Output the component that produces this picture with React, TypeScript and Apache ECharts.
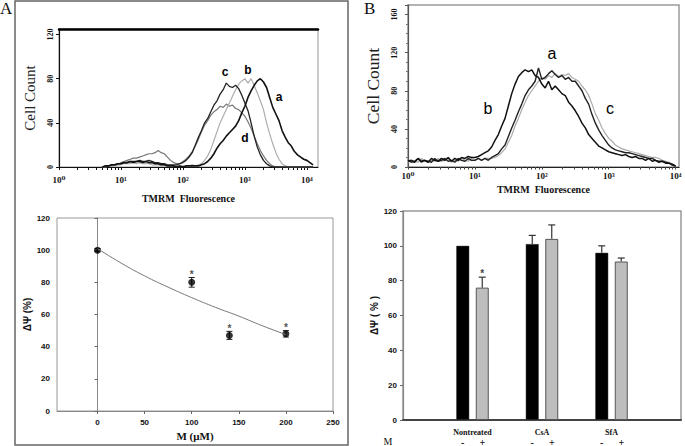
import React, { useEffect, useRef } from 'react';
import * as echarts from 'echarts';

const SERIF = '"Liberation Serif", "Times New Roman", "DejaVu Serif", serif';
const SANS = '"Liberation Sans", Arial, "DejaVu Sans", sans-serif';

// ---------- Panel A (top): TMRM histograms, bins in log10 units ----------
const histAStart = 0.7;
const histAStep = 0.05;
const histA_a = [
  0, 1, 1, 2, 2, 3, 3, 4, 4, 5,
  4, 5, 5, 4, 5, 4, 4, 3, 3, 2,
  2, 1, 1, 1, 0, 1, 0, 1, 1, 1,
  1, 1, 2, 3, 5, 8, 12, 17, 21, 24,
  28, 31, 34, 37, 42, 49, 55, 63, 69, 74,
  78, 80, 77, 72, 63, 54, 48, 42, 33, 27,
  22, 19, 14, 11, 9, 7, 6, 4, 2,
];
const histA_b = [
  0, 0, 1, 1, 1, 2, 2, 3, 3, 3,
  4, 3, 4, 3, 3, 3, 2, 2, 2, 1,
  1, 1, 1, 1, 1, 1, 1, 1, 1, 2,
  1, 2, 3, 6, 10, 16, 24, 32, 40, 46,
  52, 58, 64, 70, 75, 78, 80, 76, 80, 74,
  67, 60, 52, 40, 30, 21, 13, 7, 3, 1,
  0, 0, 0, 0, 0, 0, 0, 0, 0,
];
const histA_c = [
  0, 1, 1, 2, 2, 3, 3, 4, 4, 5,
  5, 5, 6, 5, 5, 6, 5, 4, 4, 3,
  3, 2, 2, 2, 2, 3, 4, 6, 9, 13,
  20, 27, 33, 40, 44, 50, 56, 60, 66, 70,
  76, 73, 72, 74, 71, 65, 58, 51, 40, 28,
  18, 11, 6, 3, 1, 0, 0, 0, 0, 0,
  0, 0, 0, 0, 0, 0, 0, 0, 0,
];
const histA_d = [
  0, 0, 1, 1, 2, 2, 4, 5, 6, 7,
  8, 8, 9, 10, 11, 12, 12, 13, 15, 13,
  12, 9, 6, 4, 3, 3, 5, 7, 10, 14,
  19, 25, 32, 38, 42, 47, 50, 52, 55, 54,
  57, 55, 56, 53, 52, 49, 46, 41, 35, 28,
  21, 15, 10, 6, 3, 1, 0, 0, 0, 0,
  0, 0, 0, 0, 0, 0, 0, 0, 0,
];

// ---------- Panel B (top): TMRM histograms ----------
const histBStart = 0;
const histBStep = 0.05;
const histB_a = [
  7, 5, 6, 9, 5, 7, 6, 5, 9, 6,
  7, 9, 6, 7, 5, 9, 7, 6, 9, 7,
  7, 9, 7, 9, 7, 10, 12, 14, 19, 23,
  32, 41, 49, 58, 66, 75, 81, 85, 90, 104,
  92, 94, 98, 101, 97, 94, 96, 92, 94, 90,
  90, 85, 80, 72, 66, 55, 46, 39, 33, 28,
  23, 20, 18, 17, 16, 15, 15, 14, 13, 12,
  11, 10, 9, 9, 7, 6, 6, 5, 4, 3,
  1,
];
const histB_b = [
  6, 7, 5, 9, 6, 7, 5, 9, 7, 6,
  9, 7, 10, 6, 9, 7, 10, 9, 11, 10,
  10, 11, 13, 15, 17, 21, 28, 34, 43, 51,
  64, 77, 87, 95, 99, 102, 100, 102, 96, 94,
  87, 83, 90, 81, 85, 81, 77, 75, 68, 64,
  59, 53, 46, 41, 34, 30, 26, 22, 20, 18,
  16, 15, 14, 13, 12, 13, 11, 10, 11, 9,
  9, 7, 9, 6, 7, 5, 6, 4, 4, 2,
  1,
];
const histB_c = [
  5, 7, 6, 5, 9, 6, 5, 7, 6, 9,
  6, 7, 9, 5, 7, 6, 9, 7, 6, 9,
  7, 9, 7, 9, 9, 9, 10, 12, 15, 19,
  26, 33, 43, 51, 60, 68, 75, 80, 85, 90,
  94, 92, 96, 94, 98, 95, 97, 96, 98, 94,
  92, 90, 85, 81, 75, 66, 56, 49, 41, 35,
  30, 27, 23, 21, 19, 18, 17, 16, 15, 14,
  13, 12, 11, 10, 10, 9, 7, 6, 5, 3,
  1,
];

const decadeTicks = [0, 1, 2, 3, 4];
const supDigits = ['\u2070', '\u00B9', '\u00B2', '\u00B3', '\u2074'];

// ---------- Panel A (bottom): ΔΨ vs dose ----------
const doses = [0, 100, 140, 200];
const dpsiMean = [100, 80, 47, 48];
const dpsiErr = [1, 3, 2.5, 2];
const dpsiSig = [false, true, true, true];
const fitDose = [0, 25, 50, 75, 100, 125, 150, 175, 200];
const fitVal = [101, 92, 84, 77, 70.5, 64.5, 59, 53, 47.5];
const doseTicks = [0, 50, 100, 150, 200, 250];

// ---------- Panel B (bottom): bars ----------
const treatments = ['Nontreated', 'CsA', 'SfA'];
const ctrlMean = [100, 101, 96];
const ctrlErr = [0, 5, 4];
const mMean = [76, 104, 91];
const mErr = [6, 8, 2];
const mSig = [true, false, false];
const mSigns = ['-', '+'];

function toPoints(start: number, step: number, arr: number[]) {
  return arr.map((v, i) => [+(start + i * step).toFixed(3), v]);
}
function logTicks(maxDec: number) {
  const out: number[] = [];
  for (let d = 0; d <= Math.floor(maxDec); d++) {
    for (let k = 1; k < 10; k++) {
      const v = d + Math.log10(k);
      if (v <= maxDec + 1e-9) out.push(v);
    }
  }
  return out;
}

const BAR_OFF = 9.75;

function label(text: string, x: number, y: number, size: number, weight: string) {
  return {
    type: 'text', x, y, z: 50,
    style: { text, fontFamily: SANS, fontSize: size, fontWeight: weight, fill: '#000', align: 'center', verticalAlign: 'middle' },
  };
}

function buildOption(): any {
  const lineS = (name: string, data: any, color: string, width: number, xi: number, yi: number) => ({
    name, type: 'line', xAxisIndex: xi, yAxisIndex: yi, data, symbol: 'none',
    lineStyle: { color, width }, itemStyle: { color }, silent: true,
  });

  return {
    animation: false,
    backgroundColor: '#fff',
    grid: [
      { left: 59, top: 29, width: 259, height: 138, show: true, borderColor: '#999', borderWidth: 1 },
      { left: 57, top: 218, width: 276, height: 193, show: true, borderColor: '#999', borderWidth: 1 },
      { left: 408, top: 5, width: 271, height: 162, show: true, borderColor: '#9a9a9a', borderWidth: 1.5 },
      { left: 403, top: 211, width: 278, height: 209, show: true, borderColor: '#999', borderWidth: 1.5 },
    ],
    xAxis: [
      {
        gridIndex: 0, type: 'value', min: 0, max: 4.18,
        axisLine: { lineStyle: { color: '#111', width: 1.2 } },
        axisTick: { customValues: logTicks(4.18), length: 3, lineStyle: { color: '#111' } },
        axisLabel: {
          customValues: decadeTicks, formatter: (v: number) => '10' + supDigits[Math.round(v)],
          fontFamily: SERIF, fontWeight: 'bold', fontSize: 9, color: '#111', margin: 8,
        },
        splitLine: { show: false },
        name: 'TMRM  Fluorescence', nameLocation: 'middle', nameGap: 26,
        nameTextStyle: { fontFamily: SERIF, fontWeight: 'bold', fontSize: 10, color: '#111' },
      },
      {
        gridIndex: 0, type: 'value', position: 'top', min: 0, max: 4.18,
        axisLine: { show: true, lineStyle: { color: '#000', width: 2.5 } },
        axisTick: { show: false }, axisLabel: { show: false }, splitLine: { show: false },
      },
      {
        gridIndex: 1, type: 'value', min: -43, max: 250,
        axisLine: { lineStyle: { color: '#888', width: 1 } },
        axisTick: { customValues: doseTicks, length: 3, lineStyle: { color: '#666' } },
        axisLabel: {
          customValues: doseTicks, fontFamily: SANS, fontWeight: 'bold', fontSize: 8, color: '#111', margin: 7,
        },
        splitLine: { show: false },
        name: 'M (\u03BCM)', nameLocation: 'middle', nameGap: 19,
        nameTextStyle: { fontFamily: SERIF, fontWeight: 'bold', fontSize: 11, color: '#111' },
      },
      {
        gridIndex: 2, type: 'value', min: 0, max: 4.05,
        axisLine: { lineStyle: { color: '#222', width: 1.2 } },
        axisTick: { customValues: logTicks(4.05), length: 2.5, lineStyle: { color: '#444' } },
        axisLabel: {
          customValues: decadeTicks, formatter: (v: number) => '10' + supDigits[Math.round(v)],
          fontFamily: SERIF, fontWeight: 'bold', fontSize: 9, color: '#111', margin: 4,
        },
        splitLine: { show: false },
        name: 'TMRM  Fluorescence', nameLocation: 'middle', nameGap: 17,
        nameTextStyle: { fontFamily: SERIF, fontWeight: 'bold', fontSize: 10, color: '#111' },
      },
      {
        gridIndex: 3, type: 'value', min: 0, max: 4,
        axisLine: { lineStyle: { color: '#444', width: 2 } },
        axisTick: { show: false },
        axisLabel: {
          customValues: [1, 2, 3], formatter: (v: number) => treatments[Math.round(v) - 1] || '',
          fontFamily: SERIF, fontWeight: 'bold', fontSize: 8, color: '#111', margin: 8,
        },
        splitLine: { show: false },
      },
    ],
    yAxis: [
      {
        gridIndex: 0, type: 'value', min: 0, max: 125, interval: 40,
        axisLine: { show: true, lineStyle: { color: '#111', width: 1.2 } },
        axisTick: { show: true, length: 3, lineStyle: { color: '#111' } },
        axisLabel: { rotate: 90, fontFamily: SERIF, fontWeight: 'bold', fontSize: 8, color: '#111', margin: 5 },
        splitLine: { show: false },
        name: 'Cell Count', nameLocation: 'middle', nameRotate: 90, nameGap: 22,
        nameTextStyle: { fontFamily: SERIF, fontSize: 15, color: '#222' },
      },
      {
        gridIndex: 1, type: 'value', min: 0, max: 120, interval: 20,
        axisLine: { show: true, lineStyle: { color: '#888', width: 1 } },
        axisTick: { show: true, length: 3, lineStyle: { color: '#666' } },
        axisLabel: { fontFamily: SANS, fontWeight: 'bold', fontSize: 8, color: '#111', margin: 7 },
        splitLine: { show: false },
        name: '\u0394\u03A8 (%)', nameLocation: 'middle', nameRotate: 90, nameGap: 20,
        nameTextStyle: { fontFamily: SANS, fontWeight: 'bold', fontSize: 10, color: '#111' },
      },
      {
        gridIndex: 2, type: 'value', min: 0, max: 170, interval: 40,
        axisLine: { show: true, lineStyle: { color: '#555', width: 1.2 } },
        axisTick: { show: true, length: 3, lineStyle: { color: '#555' } },
        minorTick: { show: true, splitNumber: 4, length: 2, lineStyle: { color: '#777' } },
        axisLabel: { rotate: 90, fontFamily: SERIF, fontWeight: 'bold', fontSize: 8, color: '#111', margin: 10 },
        splitLine: { show: false },
        name: 'Cell Count', nameLocation: 'middle', nameRotate: 90, nameGap: 26,
        nameTextStyle: { fontFamily: SERIF, fontSize: 17.5, color: '#222' },
      },
      {
        gridIndex: 3, type: 'value', min: 0, max: 120, interval: 20,
        axisLine: { show: true, lineStyle: { color: '#888', width: 1.2 } },
        axisTick: { show: true, length: 3, lineStyle: { color: '#666' } },
        axisLabel: { fontFamily: SANS, fontWeight: 'bold', fontSize: 8, color: '#111', margin: 6 },
        splitLine: { show: false },
        name: '\u0394\u03A8 ( % )', nameLocation: 'middle', nameRotate: 90, nameGap: 21,
        nameTextStyle: { fontFamily: SANS, fontWeight: 'bold', fontSize: 10, color: '#111' },
      },
    ],
    series: [
      // Panel A histograms
      lineS('A-d', toPoints(histAStart, histAStep, histA_d), '#777', 1.2, 0, 0),
      lineS('A-b', toPoints(histAStart, histAStep, histA_b), '#adadad', 1.2, 0, 0),
      lineS('A-c', toPoints(histAStart, histAStep, histA_c), '#222', 1.3, 0, 0),
      lineS('A-a', toPoints(histAStart, histAStep, histA_a), '#111', 1.6, 0, 0),
      // Panel A dose response
      {
        name: 'fit', type: 'line', xAxisIndex: 2, yAxisIndex: 1, smooth: true, symbol: 'none',
        data: fitDose.map((d, i) => [d, fitVal[i]]), lineStyle: { color: '#777', width: 1 },
      },
      {
        name: 'err', type: 'custom', xAxisIndex: 2, yAxisIndex: 1,
        data: doses.map((d, i) => [d, dpsiMean[i], dpsiErr[i]]),
        encode: { x: 0, y: 1 },
        renderItem: (params: any, api: any) => {
          const x = api.value(0), y = api.value(1), e = api.value(2);
          const t = api.coord([x, y + e]);
          const b = api.coord([x, y - e]);
          const w = 3;
          const st = { stroke: '#222', lineWidth: 1 };
          return {
            type: 'group', children: [
              { type: 'line', shape: { x1: t[0], y1: t[1], x2: b[0], y2: b[1] }, style: st },
              { type: 'line', shape: { x1: t[0] - w, y1: t[1], x2: t[0] + w, y2: t[1] }, style: st },
              { type: 'line', shape: { x1: b[0] - w, y1: b[1], x2: b[0] + w, y2: b[1] }, style: st },
            ],
          };
        },
      },
      {
        name: 'points', type: 'scatter', xAxisIndex: 2, yAxisIndex: 1, symbolSize: 7,
        itemStyle: { color: '#000' }, data: doses.map((d, i) => [d, dpsiMean[i]]),
      },
      {
        name: 'sig', type: 'custom', xAxisIndex: 2, yAxisIndex: 1,
        data: doses.map((d, i) => (dpsiSig[i] ? [d, dpsiMean[i] + dpsiErr[i]] : null)).filter(Boolean),
        encode: { x: 0, y: 1 },
        renderItem: (params: any, api: any) => {
          const p = api.coord([api.value(0), api.value(1)]);
          return {
            type: 'text',
            style: { text: '*', x: p[0], y: p[1] - 3, align: 'center', verticalAlign: 'middle', fontSize: 10, fontWeight: 'bold', fontFamily: SANS, fill: '#555' },
          };
        },
      },
      // Panel B histograms
      lineS('B-c', toPoints(histBStart, histBStep, histB_c), '#aaa', 1.2, 3, 2),
      lineS('B-a', toPoints(histBStart, histBStep, histB_a), '#222', 1.4, 3, 2),
      lineS('B-b', toPoints(histBStart, histBStep, histB_b), '#111', 1.5, 3, 2),
      // Panel B bars
      {
        name: 'control', type: 'bar', xAxisIndex: 4, yAxisIndex: 3, barWidth: 13, barGap: '50%',
        data: treatments.map((_, i) => [i + 1, ctrlMean[i]]),
        itemStyle: { color: '#000', borderColor: '#444', borderWidth: 0.5 },
      },
      {
        name: 'M', type: 'bar', xAxisIndex: 4, yAxisIndex: 3, barWidth: 13, barGap: '50%',
        data: treatments.map((_, i) => [i + 1, mMean[i]]),
        itemStyle: { color: '#bdbdbd', borderColor: '#555', borderWidth: 1 },
      },
      {
        name: 'barErr', type: 'custom', xAxisIndex: 4, yAxisIndex: 3,
        data: [
          ...treatments.map((_, i) => [i + 1, ctrlMean[i], ctrlErr[i], -1, 0]),
          ...treatments.map((_, i) => [i + 1, mMean[i], mErr[i], 1, mSig[i] ? 1 : 0]),
        ],
        encode: { x: 0, y: 1 },
        renderItem: (params: any, api: any) => {
          const x = api.value(0), y = api.value(1), e = api.value(2), side = api.value(3), sig = api.value(4);
          const off = side * BAR_OFF;
          const b = api.coord([x, y]);
          const t = api.coord([x, y + e]);
          const st = { stroke: '#333', lineWidth: 1.2 };
          const children: any[] = [];
          if (e > 0) {
            children.push({ type: 'line', shape: { x1: b[0] + off, y1: b[1], x2: t[0] + off, y2: t[1] }, style: st });
            children.push({ type: 'line', shape: { x1: t[0] + off - 3.5, y1: t[1], x2: t[0] + off + 3.5, y2: t[1] }, style: st });
          }
          if (sig) {
            children.push({
              type: 'text',
              style: { text: '*', x: t[0] + off, y: t[1] - 4, align: 'center', verticalAlign: 'middle', fontSize: 10, fontWeight: 'bold', fontFamily: SANS, fill: '#444' },
            });
          }
          return { type: 'group', children };
        },
      },
      {
        name: 'signs', type: 'custom', xAxisIndex: 4, yAxisIndex: 3,
        data: treatments.flatMap((_, i) => [[i + 1, 0, -1], [i + 1, 0, 1]]),
        encode: { x: 0, y: 1 },
        renderItem: (params: any, api: any) => {
          const x = api.value(0), side = api.value(2);
          const p = api.coord([x, 0]);
          return {
            type: 'text',
            style: {
              text: side < 0 ? mSigns[0] : mSigns[1], x: p[0] + side * BAR_OFF, y: p[1] + 22,
              align: 'center', verticalAlign: 'middle', fontSize: 10, fontWeight: 'bold', fontFamily: SERIF, fill: '#111',
            },
          };
        },
      },
    ],
    graphic: [
      { type: 'rect', shape: { x: 15, y: 1, width: 333, height: 444 }, style: { fill: 'none', stroke: '#666', lineWidth: 1.5 }, silent: true },
      { type: 'text', x: 0, y: 0, style: { text: 'A', fontFamily: SERIF, fontSize: 17, fill: '#111' } },
      { type: 'text', x: 364, y: 0, style: { text: 'B', fontFamily: SERIF, fontSize: 17, fill: '#111' } },
      // Panel A curve labels
      label('a', 279, 97, 12, 'bold'),
      label('b', 248, 70, 12, 'bold'),
      label('c', 225, 72, 12, 'bold'),
      label('d', 245, 138, 12, 'bold'),
      // Panel B curve labels
      label('a', 552, 53, 16, 'normal'),
      label('b', 488, 108, 16, 'normal'),
      label('c', 610, 108, 16, 'normal'),
      { type: 'text', x: 388, y: 441, style: { text: 'M', fontFamily: SERIF, fontSize: 10, fill: '#111', align: 'center', verticalAlign: 'middle' } },
    ],
  };
}

export default function App() {
  const ref = useRef<HTMLDivElement>(null);
  useEffect(() => {
    if (!ref.current) return;
    const chart = echarts.init(ref.current, null, { renderer: 'svg' });
    chart.setOption(buildOption());
    return () => chart.dispose();
  }, []);
  return (
    <div
      ref={ref}
      style={{ position: 'fixed', left: 0, top: 0, width: 685, height: 446, background: '#fff' }}
    />
  );
}
